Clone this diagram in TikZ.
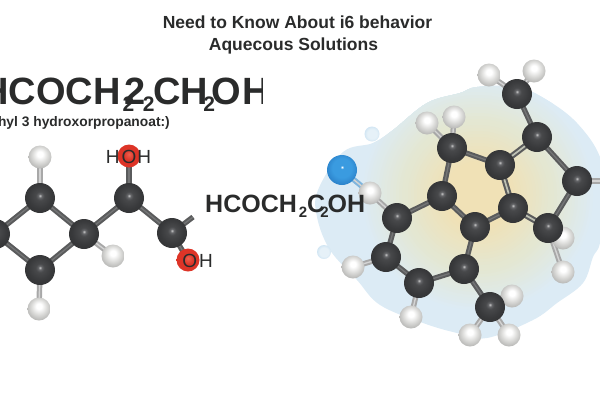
\documentclass[tikz,border=0pt]{standalone}
\usepackage{fontspec}
\setmainfont{Liberation Sans}
\pgfdeclarelayer{blobl}
\pgfdeclarelayer{bondl}
\pgfsetlayers{blobl,bondl,main}
\definecolor{ink}{HTML}{2A2B2B}
\definecolor{cA}{HTML}{C8C8C8}\definecolor{cB}{HTML}{66676A}\definecolor{cC}{HTML}{48494B}
\definecolor{cD}{HTML}{38393B}\definecolor{cE}{HTML}{2E2F30}
\definecolor{hA}{HTML}{FFFFFF}\definecolor{hB}{HTML}{DEDEDC}\definecolor{hC}{HTML}{B0B0AE}\definecolor{hD}{HTML}{8E8E8C}
\definecolor{oA}{HTML}{F0604E}\definecolor{oB}{HTML}{DD3427}\definecolor{oC}{HTML}{B92A20}
\definecolor{nA}{HTML}{FFFFFF}\definecolor{nB}{HTML}{3A9BE0}\definecolor{nC}{HTML}{2A80C8}\definecolor{nD}{HTML}{1B5C98}
\definecolor{bT}{HTML}{F0E1B6}\definecolor{bM}{HTML}{E4E7D2}\definecolor{bB}{HTML}{DCEBF5}
\definecolor{dA}{HTML}{E6F1F8}\definecolor{dB}{HTML}{C4DEF0}
\definecolor{bondD}{HTML}{5A5B5C}\definecolor{bondL}{HTML}{747576}
\definecolor{hbondD}{HTML}{A8A8A8}\definecolor{hbondL}{HTML}{D4D4D4}
\definecolor{dblcore}{HTML}{BFC2B4}
\definecolor{nbond}{HTML}{7FB5DD}
\pgfdeclareradialshading{carbon}{\pgfpoint{0bp}{4bp}}{color(0bp)=(cA);color(3bp)=(cB);color(7bp)=(cC);color(20bp)=(cD);color(35bp)=(cE);color(50bp)=(cE)}
\pgfdeclareradialshading{hydro}{\pgfpoint{0bp}{7bp}}{color(0bp)=(hA);color(6bp)=(hA);color(16bp)=(hB);color(30bp)=(hC);color(42bp)=(hD);color(50bp)=(hD)}
\pgfdeclareradialshading{oxy}{\pgfpoint{0bp}{4bp}}{color(0bp)=(oA);color(12bp)=(oB);color(28bp)=(oB);color(38bp)=(oC);color(50bp)=(oC)}
\pgfdeclareradialshading{nitro}{\pgfpoint{0bp}{5bp}}{color(0bp)=(nA);color(3bp)=(nB);color(16bp)=(nB);color(28bp)=(nC);color(40bp)=(nD);color(50bp)=(nD)}
\pgfdeclareradialshading{drop}{\pgfpoint{0bp}{0bp}}{color(0bp)=(dA);color(16bp)=(dA);color(32bp)=(dB);color(50bp)=(dB)}
\tikzset{
  atomC/.style={circle,inner sep=0pt,minimum size=30pt,shade,shading=carbon},
  atomH/.style={circle,inner sep=0pt,minimum size=23pt,shade,shading=hydro},
  atomO/.style={circle,inner sep=0pt,minimum size=23pt,shade,shading=oxy},
  atomN/.style={circle,inner sep=0pt,minimum size=30pt,shade,shading=nitro},
  droplet/.style={circle,inner sep=0pt,minimum size=#1,shade,shading=drop},
  ccbond/.style={draw=bondD,line width=2pt,double=bondL,double distance=1.3pt},
  hbond/.style={draw=hbondD,line width=2pt,double=hbondL,double distance=1.4pt},
  nhbond/.style={draw=nbond,line width=2pt,double=hbondL,double distance=1.4pt},
  dblbond/.style={draw=bondD,line width=2.1pt,double=dblcore,double distance=1.7pt},
  lab/.style={inner sep=0pt,text=ink,font=\fontsize{#1}{#1}\selectfont\bfseries},
  small/.style={inner sep=0pt,text=ink,font=\fontsize{19}{19}\selectfont},
}
\newcommand{\subtwo}[2]{\raisebox{#2}{\fontsize{#1}{#1}\selectfont 2}}
\begin{document}
\begin{tikzpicture}[x=1pt,y=-1pt]
\useasboundingbox (0,0) rectangle (600,400);
% left molecule
\node[atomH] (a1) at (40,157) {};
\node[atomH] (a2) at (113,256) {};
\node[atomH] (a3) at (39,309) {};
\node[atomC] (l1) at (40,198) {};
\node[atomC] (l2) at (-5,234) {};
\node[atomC] (l3) at (84,234) {};
\node[atomC] (l4) at (40,270) {};
\node[atomC] (l5) at (129,198) {};
\node[atomC] (l6) at (172,233) {};
\node[atomO] (o1) at (129,156) {};
\node[atomO] (o2) at (188,260) {};
\coordinate (s1) at (193,217);
% right molecule
\node[atomH] (h1) at (489,75) {};
\node[atomH] (h2) at (534,71) {};
\node[atomH] (h3) at (427,123) {};
\node[atomH] (h4) at (454,117) {};
\node[atomH] (h5) at (370,193) {};
\node[atomH] (h6) at (563,238) {};
\node[atomH] (h7) at (563,272) {};
\node[atomH] (h8) at (353,267) {};
\node[atomH] (h9) at (411,317) {};
\node[atomH] (h10) at (512,296) {};
\node[atomH] (h11) at (509,335) {};
\node[atomH] (h12) at (470,335) {};
\node[atomC] (c1) at (517,94) {};
\node[atomC] (c2) at (537,137) {};
\node[atomC] (c3) at (500,165) {};
\node[atomC] (c4) at (577,181) {};
\node[atomC] (c5) at (452,148) {};
\node[atomC] (c6) at (442,196) {};
\node[atomC] (c7) at (397,218) {};
\node[atomC] (c8) at (475,227) {};
\node[atomC] (c9) at (513,208) {};
\node[atomC] (c10) at (548,228) {};
\node[atomC] (c11) at (386,257) {};
\node[atomC] (c12) at (419,283) {};
\node[atomC] (c13) at (464,269) {};
\node[atomC] (c14) at (490,307) {};
\node[atomN] (n1) at (342,170) {};
\coordinate (s2) at (602,181);
\node[droplet=15pt] (d1) at (372,134) {};
\node[droplet=14pt] (d2) at (324,252) {};
\begin{pgfonlayer}{blobl}
\begin{scope}
\clip plot[smooth cycle,tension=.6] coordinates {(317,217)(318,190)(343,152)(373,143)(393,130)(427,103)(460,93)(477,87)(517,87)(547,100)(577,123)(600,157)(606,200)(600,243)(593,257)(583,283)(557,303)(533,320)(487,338)(457,333)(423,323)(380,305)(357,280)(330,250)};
\fill[bB] (300,70) rectangle (610,350);
\foreach \r in {118,115,...,76} {
  \pgfmathsetmacro\mixv{(118-\r)/42*100}
  \fill[bM!\mixv!bB] (478,195) circle[radius=\r pt];
}
\foreach \r in {73,70,...,34} {
  \pgfmathsetmacro\mixv{(75-\r)/41*100}
  \fill[bT!\mixv!bM] (478,195) circle[radius=\r pt];
}
\end{scope}
\end{pgfonlayer}
\begin{pgfonlayer}{bondl}
\foreach \p/\q in {l1/l2,l1/l3,l2/l4,l4/l3,l3/l5,l5/l6,l5/o1,l6/o2,l6/s1,
  c1/c2,c2/c4,c3/c5,c5/c6,c6/c7,c6/c8,c9/c8,c10/c4,c7/c11,c11/c12,c12/c13,c13/c8,c13/c14}
  \draw[ccbond] (\p.center) -- (\q.center);
\foreach \p/\q in {a1/l1,a2/l3,a3/l4,h1/c1,h2/c1,h3/c5,h4/c5,h5/c7,h6/c10,h7/c10,h8/c11,h9/c12,h10/c14,h11/c14,h12/c14,c4/s2}
  \draw[hbond] (\p.center) -- (\q.center);
\draw[nhbond] (n1.center) -- (h5.center);
\foreach \p/\q in {c2/c3,c3/c9,c9/c10}
  \draw[dblbond] (\p.center) -- (\q.center);
\end{pgfonlayer}
% texts
\node[lab=17.5,anchor=base] (t1) at (297.5,28) {Need to Know About i6 behavior};
\node[lab=17.5,anchor=base] (t2) at (293.5,50) {Aquecous Solutions};
\node[lab=38,anchor=base west] (f1) at (-19,104) {HCOCH\kern2pt\subtwo{21}{-7pt}\kern-9.5pt 2\kern-3pt\subtwo{21}{-7pt}\kern-1pt CH\kern-5pt\subtwo{21}{-7pt}\kern-3.7pt O\kern2pt H};
\fill[white] (262.6,70) rectangle (280,112);
\node[lab=13.8,anchor=base east] (f2) at (170,126) {hyl 3 hydroxorpropanoat:)};
\node[lab=25,anchor=base west] (f3) at (205,212) {HCOCH\kern2pt\subtwo{15}{-5pt}C\kern-5pt\subtwo{15}{-5pt}\kern-1pt OH};
\node[small] (x1) at (128.5,157) {H\kern2pt O\kern1pt H};
\node[small] (x2) at (197.5,260.5) {O\kern2pt H};
\end{tikzpicture}
\end{document}
